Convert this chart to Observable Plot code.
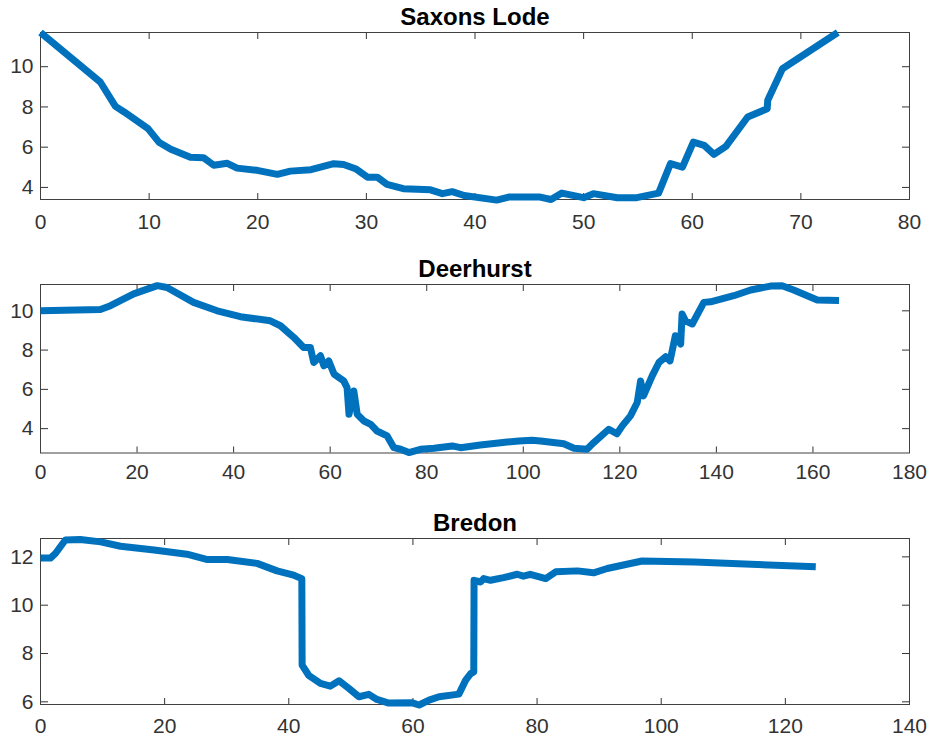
<!DOCTYPE html>
<html>
<head>
<meta charset="utf-8">
<script src="https://cdn.jsdelivr.net/npm/d3@7"></script>
<script src="https://cdn.jsdelivr.net/npm/@observablehq/plot@0.6"></script>
<style>
  html, body { margin: 0; padding: 0; background: #fff; }
  #chart svg { display: block; }
</style>
</head>
<body>
<div id="chart"></div>
<script>
// ---- Saxons Lode ----
const saxonsTitle = "Saxons Lode";
const saxonsX = [0, 5.5, 6.9, 7.7, 9.9, 10.9, 12.0, 13.8, 15.0, 15.95, 17.2, 18.1, 19.95, 21.8, 23.0, 24.9, 27.0, 27.9, 29.0, 30.1, 31.0, 31.9, 33.4, 35.9, 37.0, 37.9, 39.0, 42.0, 43.1, 46.0, 47.0, 48.0, 50.0, 50.9, 53.1, 54.9, 56.9, 58.0, 59.1, 60.1, 61.1, 62.0, 63.1, 65.1, 66.9, 66.95, 68.3, 73.4];
const saxonsY = [11.7, 9.24, 8.03, 7.75, 6.92, 6.25, 5.9, 5.5, 5.48, 5.1, 5.2, 4.96, 4.85, 4.65, 4.81, 4.88, 5.18, 5.14, 4.93, 4.51, 4.51, 4.15, 3.94, 3.88, 3.69, 3.79, 3.6, 3.37, 3.52, 3.52, 3.4, 3.72, 3.49, 3.69, 3.49, 3.49, 3.72, 5.18, 5.01, 6.25, 6.09, 5.64, 6.04, 7.5, 7.91, 8.33, 9.9, 11.7];
const saxonsXTicks = [0, 10, 20, 30, 40, 50, 60, 70, 80];
const saxonsYTicks = [4, 6, 8, 10];

// ---- Deerhurst ----
const deerTitle = "Deerhurst";
const deerX = [0, 12.4, 14.5, 19.3, 24.2, 26.2, 31.7, 36.6, 41.4, 47.6, 49.7, 52.5, 54.5, 55.9, 56.6, 58.0, 58.7, 59.7, 60.8, 62.8, 63.5, 63.9, 64.9, 65.6, 67.0, 68.4, 69.7, 71.8, 73.2, 74.6, 76.3, 78.7, 81.5, 85.3, 87.0, 91.1, 96.7, 99.1, 101.8, 103.6, 108.4, 110.5, 113.2, 114.6, 117.7, 119.4, 120.5, 122.2, 123.6, 124.3, 124.9, 126.7, 128.1, 129.5, 130.4, 131.5, 132.6, 132.9, 133.6, 135.0, 137.4, 138.8, 143.6, 147.1, 151.2, 153.6, 156.0, 160.9, 165.4];
const deerY = [10.0, 10.07, 10.26, 10.86, 11.28, 11.19, 10.43, 10.0, 9.7, 9.49, 9.24, 8.64, 8.13, 8.13, 7.37, 7.71, 7.2, 7.45, 6.78, 6.43, 6.09, 4.73, 5.92, 4.73, 4.39, 4.22, 3.88, 3.63, 3.03, 2.95, 2.78, 2.95, 3.0, 3.12, 3.03, 3.17, 3.32, 3.37, 3.41, 3.37, 3.23, 3.0, 2.95, 3.29, 3.97, 3.74, 4.14, 4.65, 5.33, 6.43, 5.67, 6.69, 7.37, 7.66, 7.45, 8.73, 8.31, 9.84, 9.49, 9.33, 10.43, 10.46, 10.77, 11.06, 11.26, 11.28, 11.06, 10.55, 10.52];
const deerXTicks = [0, 20, 40, 60, 80, 100, 120, 140, 160, 180];
const deerYTicks = [4, 6, 8, 10];

// ---- Bredon ----
const bredonTitle = "Bredon";
const bredonX = [0, 1.6, 2.4, 4.0, 6.4, 9.7, 12.9, 18.3, 23.6, 26.9, 30.1, 34.9, 38.1, 40.8, 42.1, 42.15, 43.2, 45.1, 46.7, 48.1, 49.7, 51.3, 52.9, 54.2, 56.1, 59.9, 61.0, 62.6, 64.2, 67.4, 68.5, 69.3, 69.8, 69.85, 70.9, 71.4, 72.5, 74.6, 76.8, 77.8, 78.9, 81.4, 83.0, 86.5, 89.1, 91.3, 96.9, 105.3, 124.9];
const bredonY = [11.95, 11.95, 12.14, 12.7, 12.72, 12.62, 12.44, 12.28, 12.11, 11.89, 11.89, 11.73, 11.42, 11.24, 11.1, 7.52, 7.1, 6.76, 6.65, 6.87, 6.55, 6.21, 6.31, 6.1, 5.95, 5.96, 5.87, 6.07, 6.21, 6.32, 6.9, 7.17, 7.24, 11.03, 10.96, 11.1, 11.03, 11.14, 11.28, 11.2, 11.28, 11.1, 11.38, 11.42, 11.34, 11.52, 11.83, 11.79, 11.59];
const bredonXTicks = [0, 20, 40, 60, 80, 100, 120, 140];
const bredonYTicks = [6, 8, 10, 12];

const FONT = "'Liberation Sans', Arial, Helvetica, sans-serif";
const INK = "#333333";

function panel({title, xs, ys, xTicks, yTicks, xDomain, yDomain, height, marginTop, marginBottom, xPad}) {
  const data = xs.map((x, i) => ({x, y: ys[i]}));
  const noText = () => "";
  const fmt = d => String(d);
  return Plot.plot({
    width: 931,
    height,
    marginLeft: 40,
    marginRight: 22,
    marginTop,
    marginBottom,
    style: {fontFamily: FONT, fontSize: "21px", color: INK, background: "white", overflow: "visible"},
    x: {domain: xDomain, label: null},
    y: {domain: yDomain, label: null},
    marks: [
      Plot.axisX({ticks: xTicks, tickSize: 0, tickPadding: xPad, tickFormat: fmt, label: null, fontSize: 21}),
      Plot.axisX({ticks: xTicks, tickSize: -6, tickFormat: noText, label: null}),
      Plot.axisX({anchor: "top", ticks: xTicks, tickSize: -6, tickFormat: noText, label: null}),
      Plot.axisY({ticks: yTicks, tickSize: 0, tickPadding: 7, tickFormat: fmt, label: null, fontSize: 21}),
      Plot.axisY({ticks: yTicks, tickSize: -8, tickFormat: noText, label: null}),
      Plot.axisY({anchor: "right", ticks: yTicks, tickSize: -8, tickFormat: noText, label: null}),
      Plot.frame({stroke: "#404040", strokeWidth: 1}),
      Plot.line(data, {x: "x", y: "y", stroke: "#0072BD", strokeWidth: 7, strokeLinecap: "butt", strokeLinejoin: "round"}),
      Plot.text([title], {text: d => d, frameAnchor: "top", dy: -8, lineAnchor: "bottom", fontWeight: "bold", fontSize: 24, fill: "black"})
    ]
  });
}

const chart = document.getElementById("chart");
chart.append(panel({title: saxonsTitle, xs: saxonsX, ys: saxonsY, xTicks: saxonsXTicks, yTicks: saxonsYTicks,
  xDomain: [0, 80], yDomain: [3.4, 11.7], height: 243, marginTop: 32, marginBottom: 44, xPad: 15}));
chart.append(panel({title: deerTitle, xs: deerX, ys: deerY, xTicks: deerXTicks, yTicks: deerYTicks,
  xDomain: [0, 180], yDomain: [2.76, 11.34], height: 250, marginTop: 41, marginBottom: 40.5, xPad: 11}));
chart.append(panel({title: bredonTitle, xs: bredonX, ys: bredonY, xTicks: bredonXTicks, yTicks: bredonYTicks,
  xDomain: [0, 140], yDomain: [5.89, 12.76], height: 250, marginTop: 45, marginBottom: 39, xPad: 14}));
</script>
</body>
</html>
